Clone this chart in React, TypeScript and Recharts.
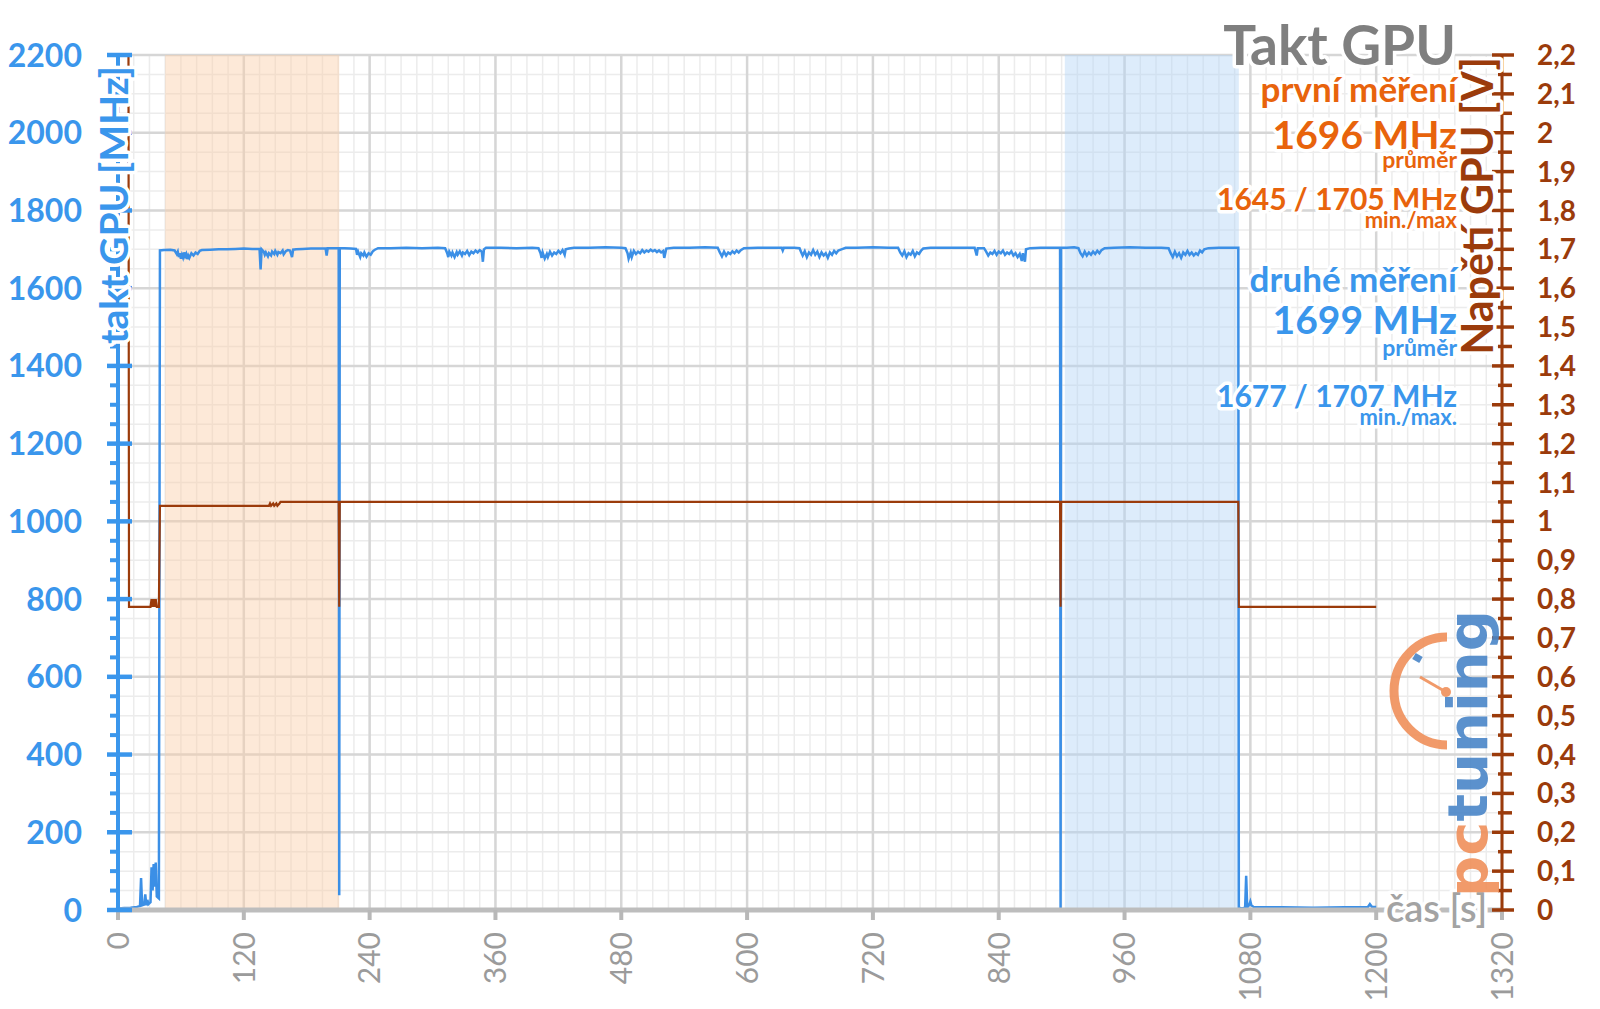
import React from 'react';
import { ComposedChart, Line, XAxis, YAxis, CartesianGrid, ReferenceArea } from 'recharts';

const BLUE = '#3a96ec';
const LINE_BLUE = '#3b8fe6';
const BROWN = '#9b3b0b';
const ORANGE = '#e8630c';
const GRAY = '#7f7f7f';
const FONT = "Lato, 'Open Sans', sans-serif";

// x axis (seconds)
const xTicks = [0, 120, 240, 360, 480, 600, 720, 840, 960, 1080, 1200, 1320];
// left axis (MHz)
const leftMajor = [0, 200, 400, 600, 800, 1000, 1200, 1400, 1600, 1800, 2000, 2200];
// right axis (V)
const rightLabels = ['0', '0,1', '0,2', '0,3', '0,4', '0,5', '0,6', '0,7', '0,8', '0,9', '1', '1,1', '1,2', '1,3', '1,4', '1,5', '1,6', '1,7', '1,8', '1,9', '2', '2,1', '2,2'];

// shaded test windows [start, end] in seconds
const firstRun = [45, 211];
const secondRun = [903, 1069];

// GPU clock [s, MHz]
const clockSamples: [number, number][] = [
  [0, 4], [6, 5], [12, 6], [18, 8], [21, 10], [22, 82], [23, 12], [25, 14], [26, 40], [27, 12], [28, 26], [29, 15], [31, 20], [32, 110], [33, 50], [34, 118], [35, 60], [36, 122], [37, 35], [39, 30], [40, 1697],
  [44, 1698], [50, 1699], [54, 1697], [56, 1688], [57, 1694], [58, 1680], [59, 1690], [60, 1676], [61, 1686], [62, 1679], [63, 1692], [64, 1682], [65, 1688], [66, 1675], [67, 1684], [68, 1678], [70, 1690], [72, 1684], [74, 1692], [76, 1688], [78, 1696], [80, 1698], [88, 1699], [96, 1700], [104, 1700], [112, 1701], [120, 1702], [128, 1701], [135, 1701], [136, 1648], [137, 1700], [139, 1694], [140, 1686], [141, 1692], [143, 1682], [144, 1690], [146, 1684], [147, 1694], [149, 1688], [150, 1696], [152, 1686], [153, 1693], [155, 1690], [157, 1697], [158, 1687], [160, 1695], [162, 1698], [164, 1697], [166, 1680], [167, 1699], [170, 1700], [176, 1701], [184, 1702], [192, 1702], [198, 1702], [199, 1684], [200, 1703], [206, 1703], [210.5, 1703], [211, 38], [211.5, 1703],
  [216, 1703], [222, 1702], [227, 1701], [228, 1686], [229, 1694], [231, 1680], [232, 1690], [234, 1684], [235, 1692], [237, 1681], [239, 1690], [241, 1686], [243, 1695], [245, 1699], [248, 1703], [260, 1703], [275, 1704], [290, 1703], [305, 1704], [312, 1703], [314, 1690], [315, 1680], [316, 1694], [318, 1684], [319, 1692], [321, 1680], [323, 1693], [324, 1686], [326, 1695], [328, 1684], [329, 1692], [331, 1688], [333, 1696], [335, 1685], [337, 1694], [339, 1690], [341, 1697], [343, 1692], [345, 1698], [347, 1694], [348, 1668], [349, 1700], [351, 1704], [365, 1704], [380, 1703], [395, 1704], [401, 1703], [403, 1690], [404, 1678], [405, 1692], [407, 1676], [409, 1688], [410, 1680], [412, 1694], [414, 1684], [416, 1692], [418, 1688], [420, 1696], [422, 1690], [424, 1698], [426, 1686], [427, 1700], [430, 1702], [435, 1704], [450, 1704], [465, 1705], [480, 1704], [484, 1703], [486, 1690], [487, 1676], [489, 1692], [490, 1680], [492, 1696], [494, 1688], [496, 1694], [498, 1690], [500, 1698], [502, 1692], [504, 1697], [506, 1694], [508, 1699], [510, 1695], [512, 1698], [514, 1693], [516, 1697], [518, 1692], [520, 1696], [521, 1678], [523, 1702], [530, 1704], [545, 1704], [560, 1705], [572, 1704], [574, 1692], [576, 1682], [578, 1694], [580, 1684], [582, 1692], [584, 1688], [586, 1695], [588, 1690], [590, 1697], [592, 1692], [594, 1698], [597, 1703], [610, 1704], [625, 1704], [633, 1704], [634, 1697], [635, 1704], [645, 1704], [650, 1703], [652, 1690], [653, 1684], [655, 1695], [657, 1680], [659, 1692], [661, 1686], [663, 1698], [665, 1686], [667, 1694], [669, 1680], [671, 1692], [673, 1684], [675, 1690], [677, 1678], [679, 1692], [681, 1686], [683, 1696], [685, 1690], [687, 1697], [690, 1700], [694, 1704], [705, 1704], [720, 1705], [735, 1704], [744, 1704], [746, 1692], [748, 1684], [750, 1695], [752, 1680], [754, 1690], [756, 1686], [758, 1696], [760, 1682], [762, 1692], [764, 1688], [766, 1697], [768, 1702], [775, 1704], [790, 1704], [805, 1704], [817, 1704], [819, 1684], [820, 1703], [826, 1703], [828, 1694], [830, 1684], [832, 1692], [834, 1688], [836, 1696], [838, 1686], [840, 1694], [842, 1690], [844, 1697], [846, 1686], [848, 1692], [850, 1688], [852, 1695], [854, 1684], [856, 1690], [858, 1680], [860, 1688], [862, 1670], [863, 1690], [865, 1668], [866, 1700], [870, 1703], [880, 1704], [890, 1704], [898.5, 1704], [899, 5], [899.5, 1704],
  [905, 1704], [912, 1705], [916, 1703], [918, 1690], [920, 1682], [922, 1694], [924, 1684], [926, 1692], [928, 1686], [930, 1694], [932, 1688], [934, 1696], [936, 1690], [938, 1698], [941, 1703], [950, 1704], [965, 1705], [980, 1704], [995, 1704], [1002, 1703], [1004, 1690], [1006, 1680], [1008, 1694], [1010, 1682], [1012, 1690], [1014, 1678], [1016, 1692], [1018, 1686], [1020, 1696], [1022, 1686], [1024, 1692], [1026, 1684], [1028, 1690], [1030, 1686], [1032, 1697], [1034, 1692], [1036, 1700], [1040, 1703], [1050, 1704], [1060, 1704], [1068.5, 1704], [1069, 6],
  [1072, 4], [1075, 6], [1076, 88], [1077, 6], [1079, 14], [1080, 22], [1081, 12], [1083, 8], [1090, 7], [1110, 7], [1140, 6], [1170, 7], [1192, 7], [1194, 15], [1196, 8], [1200, 8],
];

// GPU voltage [s, V]
const voltSamples: [number, number][] = [
  [10, 2.2], [10.5, 0.78], [31, 0.78], [32, 0.8], [33, 0.78], [34, 0.8], [35, 0.78], [36, 0.8], [37, 0.78], [39, 0.78], [40, 1.04], [144, 1.04], [145, 1.046], [146, 1.04], [148, 1.046], [149, 1.04], [151, 1.046], [152, 1.04], [154, 1.046], [155, 1.05], [210.5, 1.05], [211, 0.78], [211.5, 1.05], [898.5, 1.05], [899, 0.78], [899.5, 1.05], [1068.5, 1.05], [1069, 0.78], [1200, 0.78],
];

const clockData = clockSamples.map(([t, v]) => ({ t, v }));
const voltData = voltSamples.map(([t, v]) => ({ t, v }));

// tick / grid positions
const leftTicks = Array.from({ length: 45 }, (_, i) => i * 50);
const rightTicks = Array.from({ length: 45 }, (_, i) => Math.round(i * 5) / 100);
const minorX = Array.from({ length: 89 }, (_, i) => i * 15);

const halo = { paintOrder: 'stroke' as const, stroke: '#fff', strokeWidth: 7, strokeLinejoin: 'round' as const };

const LeftTick = (p: any) => {
  const { x, y, payload } = p;
  const v = payload.value;
  const major = v % 200 === 0;
  return (
    <g>
      {major ? (
        <line x1={x - 11} x2={x + 14} y1={y} y2={y} stroke={BLUE} strokeWidth={4.5} />
      ) : (
        <line x1={x - 8} x2={x + 2} y1={y} y2={y} stroke={BLUE} strokeWidth={4} />
      )}
      {major && (
        <text x={x - 36} y={y} dy="0.36em" textAnchor="end" fill={BLUE} fontSize={32} fontWeight={700} fontFamily={FONT}>
          {v}
        </text>
      )}
    </g>
  );
};

const RightTick = (p: any) => {
  const { x, y, payload } = p;
  const idx = Math.round(payload.value * 20);
  const major = idx % 2 === 0;
  return (
    <g>
      <line x1={x + (major ? -10 : -4)} x2={x + (major ? 12 : 10)} y1={y} y2={y} stroke={BROWN} strokeWidth={3.5} />
      {major && (
        <text x={x + 35} y={y} dy="0.36em" textAnchor="start" fill={BROWN} fontSize={28} fontWeight={700} fontFamily={FONT}>
          {rightLabels[idx / 2]}
        </text>
      )}
    </g>
  );
};

const XTick = (p: any) => {
  const { x, y, payload } = p;
  return (
    <g>
      <line x1={x} x2={x} y1={y} y2={y + 10} stroke="#b8b8b8" strokeWidth={4} />
      <text transform={`translate(${x},${y + 22}) rotate(-90)`} textAnchor="end" dy="0.36em" fill="#9b9b9b" fontSize={30} fontFamily={FONT}>
        {payload.value}
      </text>
    </g>
  );
};

const Overlay = () => (
  <svg width={1600} height={1009} style={{ position: 'absolute', left: 0, top: 0, pointerEvents: 'none' }} fontFamily={FONT} fontWeight={700}>
    {/* axis titles */}
    <text transform="translate(128,66) rotate(-90)" textAnchor="end" fill={BLUE} fontSize={39} style={halo}>takt GPU [MHz]</text>
    <text transform="translate(1493,57) rotate(-90)" textAnchor="end" fill={BROWN} fontSize={43} style={halo}>Napětí GPU [V]</text>
    <text x={1386} y={922} fill="#a3a3a3" fontSize={38} fontWeight={600} style={halo}>čas [s]</text>
    {/* title and stats */}
    <g textAnchor="end">
      <text x={1456} y={65} fill={GRAY} fontSize={55} style={halo}>Takt GPU</text>
      <text x={1457} y={102} fill={ORANGE} fontSize={35} style={halo}>první měření</text>
      <text x={1457} y={149} fill={ORANGE} fontSize={39} style={halo}>1696 MHz</text>
      <text x={1457} y={168} fill={ORANGE} fontSize={23} style={halo}>průměr</text>
      <text x={1457} y={210} fill={ORANGE} fontSize={30} style={halo}>1645 / 1705 MHz</text>
      <text x={1457} y={228} fill={ORANGE} fontSize={22} style={halo}>min./max</text>
      <text x={1457} y={292} fill={BLUE} fontSize={35} style={halo}>druhé měření</text>
      <text x={1457} y={334} fill={BLUE} fontSize={39} style={halo}>1699 MHz</text>
      <text x={1457} y={356} fill={BLUE} fontSize={23} style={halo}>průměr</text>
      <text x={1457} y={407} fill={BLUE} fontSize={30} style={halo}>1677 / 1707 MHz</text>
      <text x={1457} y={425} fill={BLUE} fontSize={22} style={halo}>min./max.</text>
    </g>
    {/* pctuning logo */}
    <g opacity={0.9}>
      <path d="M 1447 637 A 53 54 0 0 0 1447 745" fill="none" stroke="#f0905a" strokeWidth={9} />
      <line x1={1414} x2={1421} y1={656} y2={660} stroke="#4a86c8" strokeWidth={7} />
      <line x1={1446} x2={1420} y1={692} y2={677} stroke="#f0905a" strokeWidth={3} />
      <circle cx={1446} cy={692} r={5} fill="#f0905a" />
      <text transform="translate(1487,897) rotate(-90)" fontSize={56} fontFamily="'DejaVu Sans', sans-serif" fontWeight={700} textLength={287} lengthAdjust="spacingAndGlyphs">
        <tspan fill="#f0905a">pc</tspan>
        <tspan fill="#4a86c8">tuning</tspan>
      </text>
    </g>
  </svg>
);

export default function App() {
  return (
    <div style={{ position: 'absolute', left: 0, top: 0, width: 1600, height: 1009, background: '#fff' }}>
      <ComposedChart width={1600} height={1009} margin={{ top: 55, right: 0, bottom: 0, left: 0 }}>
        <CartesianGrid yAxisId="left" horizontalValues={leftTicks} verticalValues={minorX} stroke="#ececec" strokeWidth={1.5} />
        <CartesianGrid yAxisId="left" horizontalValues={leftMajor} verticalValues={xTicks} stroke="#d6d6d6" strokeWidth={2.5} />
        <XAxis dataKey="t" type="number" domain={[0, 1320]} ticks={xTicks} interval={0} height={99} tickSize={0} tickMargin={0}
          axisLine={{ stroke: '#bdbdbd', strokeWidth: 5 }} tickLine={false} tick={<XTick />} allowDataOverflow />
        <YAxis yAxisId="left" type="number" domain={[0, 2200]} ticks={leftTicks} interval={0} width={118} tickSize={0} tickMargin={0}
          axisLine={{ stroke: BLUE, strokeWidth: 4 }} tickLine={false} tick={<LeftTick />} allowDataOverflow />
        <YAxis yAxisId="right" orientation="right" type="number" domain={[0, 2.2]} ticks={rightTicks} interval={0} width={98} tickSize={0} tickMargin={0}
          axisLine={{ stroke: BROWN, strokeWidth: 3 }} tickLine={false} tick={<RightTick />} allowDataOverflow />
        <ReferenceArea yAxisId="left" x1={firstRun[0]} x2={firstRun[1]} y1={0} y2={2200} fill="#fbcfa8" fillOpacity={0.45} stroke="none" />
        <ReferenceArea yAxisId="left" x1={secondRun[0]} x2={secondRun[1]} y1={0} y2={2200} fill="#b3d4f7" fillOpacity={0.45} stroke="none" />
        <Line yAxisId="left" data={clockData} dataKey="v" type="linear" stroke={LINE_BLUE} strokeWidth={2.5} dot={false} isAnimationActive={false} />
        <Line yAxisId="right" data={voltData} dataKey="v" type="linear" stroke={BROWN} strokeWidth={2.2} dot={false} isAnimationActive={false} />
      </ComposedChart>
      <Overlay />
    </div>
  );
}
